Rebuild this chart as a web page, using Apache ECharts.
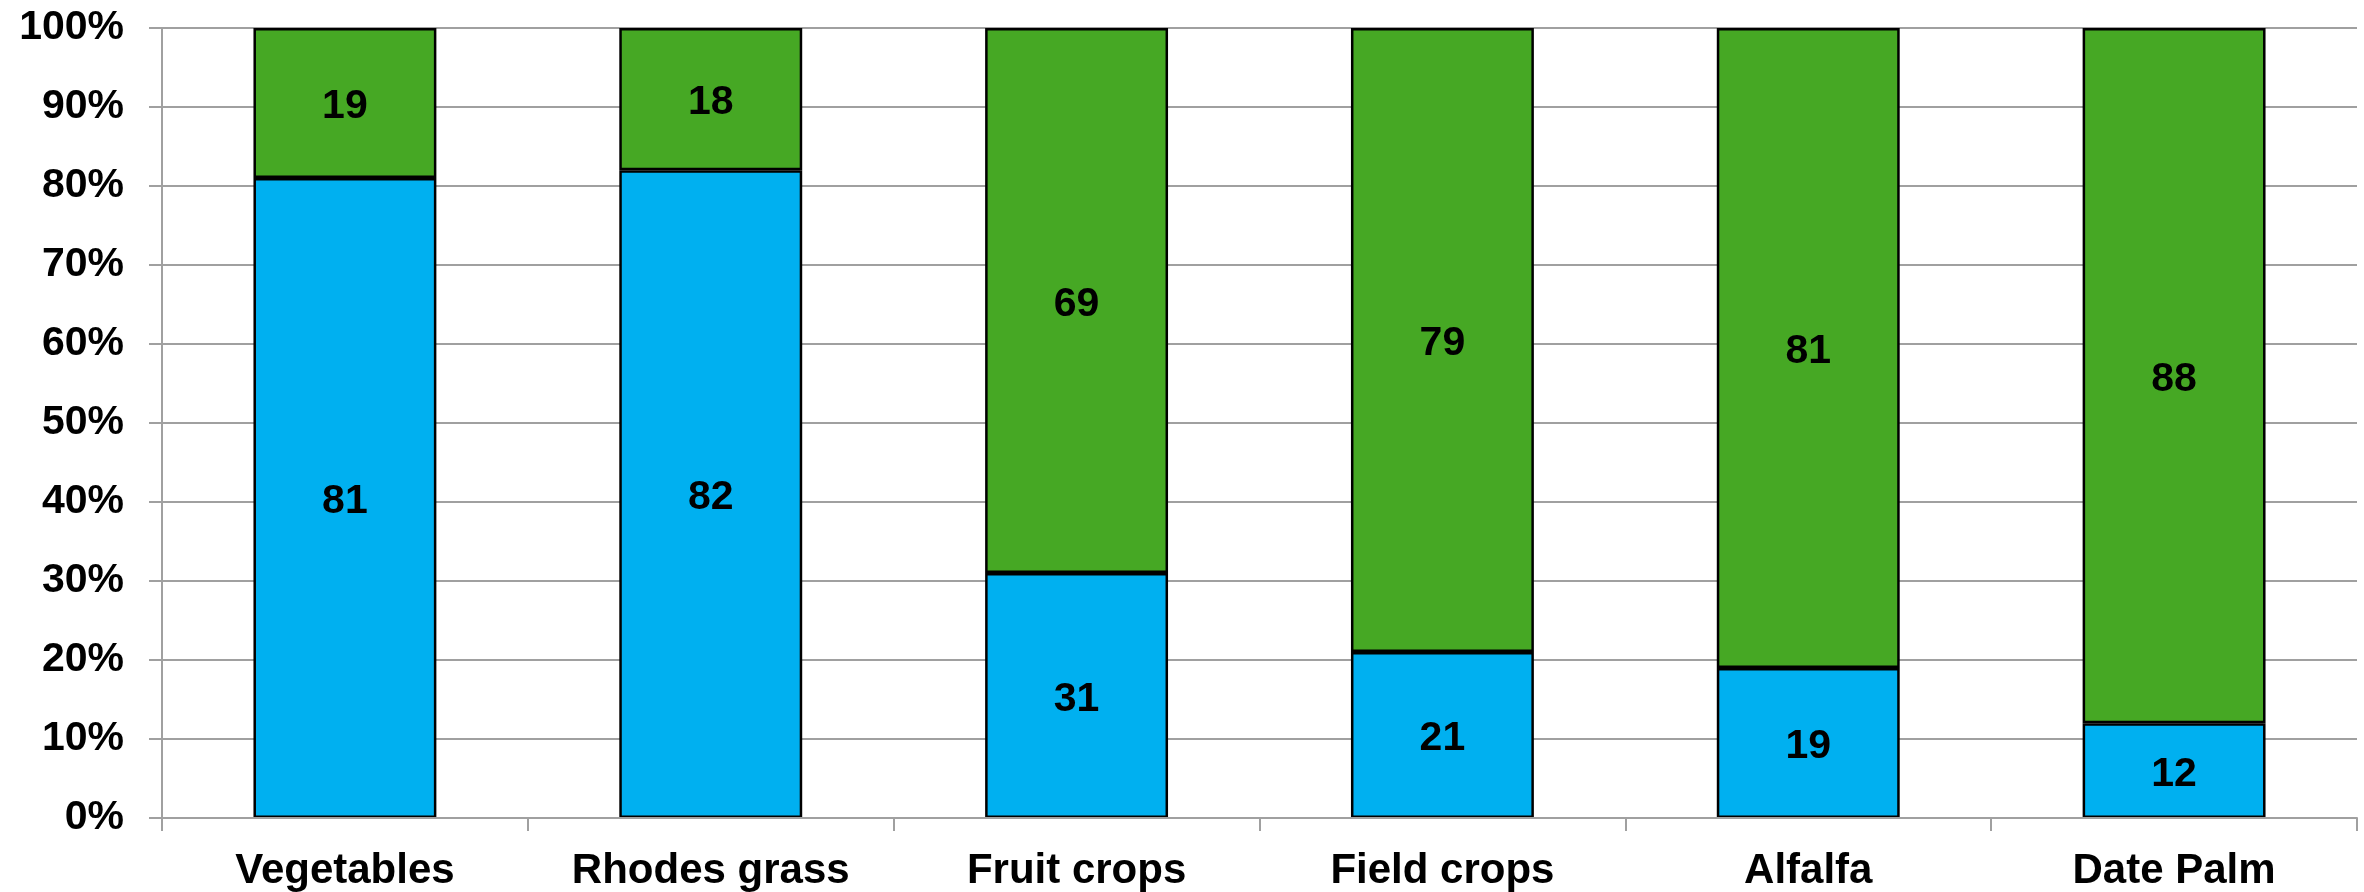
<!DOCTYPE html>
<html>
<head>
<meta charset="utf-8">
<script src="https://cdn.jsdelivr.net/npm/echarts@6/dist/echarts.min.js"></script>
<style>
  html, body { margin: 0; padding: 0; background: #ffffff; }
  #chart { width: 2364px; height: 892px; }
</style>
</head>
<body>
<div id="chart"></div>
<script>
// Crop categories and their percentage split (lower and upper segment)
const categories = ['Vegetables', 'Rhodes grass', 'Fruit crops', 'Field crops', 'Alfalfa', 'Date Palm'];
const lowerShare = [81, 82, 31, 21, 19, 12];
const upperShare = [19, 18, 69, 79, 81, 88];

const FONT = '"Liberation Sans", Arial, sans-serif';
const gridColor = '#a0a0a0';

const chart = echarts.init(document.getElementById('chart'), null, { renderer: 'canvas' });

const labelStyle = {
  show: true,
  position: 'inside',
  offset: [0, 4],
  color: '#000000',
  fontFamily: FONT,
  fontWeight: 'bold',
  fontSize: 41
};

chart.setOption({
  animation: false,
  backgroundColor: '#ffffff',
  grid: { left: 162, right: 7, top: 28, bottom: 74, containLabel: false },
  xAxis: {
    type: 'category',
    data: categories,
    z: 3,
    axisLine: { show: true, lineStyle: { color: gridColor, width: 2 } },
    axisTick: { show: true, length: 13, lineStyle: { color: gridColor, width: 2 } },
    axisLabel: {
      color: '#000000',
      fontFamily: FONT,
      fontWeight: 'bold',
      fontSize: 42,
      margin: 32
    }
  },
  yAxis: {
    type: 'value',
    min: 0,
    max: 100,
    interval: 10,
    axisLine: { show: true, lineStyle: { color: gridColor, width: 2 } },
    axisTick: { show: true, length: 13, lineStyle: { color: gridColor, width: 2 } },
    splitLine: { show: true, lineStyle: { color: gridColor, width: 2 } },
    axisLabel: {
      formatter: '{value}%',
      color: '#000000',
      fontFamily: FONT,
      fontWeight: 'bold',
      fontSize: 41,
      margin: 38
    }
  },
  series: [
    {
      name: 'lower',
      type: 'bar',
      stack: 'share',
      data: lowerShare,
      barWidth: '50%',
      itemStyle: { color: '#00b0f0', borderColor: '#000000', borderWidth: 2.5 },
      label: labelStyle
    },
    {
      name: 'upper',
      type: 'bar',
      stack: 'share',
      data: upperShare,
      barWidth: '50%',
      itemStyle: { color: '#46a824', borderColor: '#000000', borderWidth: 2.5 },
      label: labelStyle
    }
  ]
});
</script>
</body>
</html>
